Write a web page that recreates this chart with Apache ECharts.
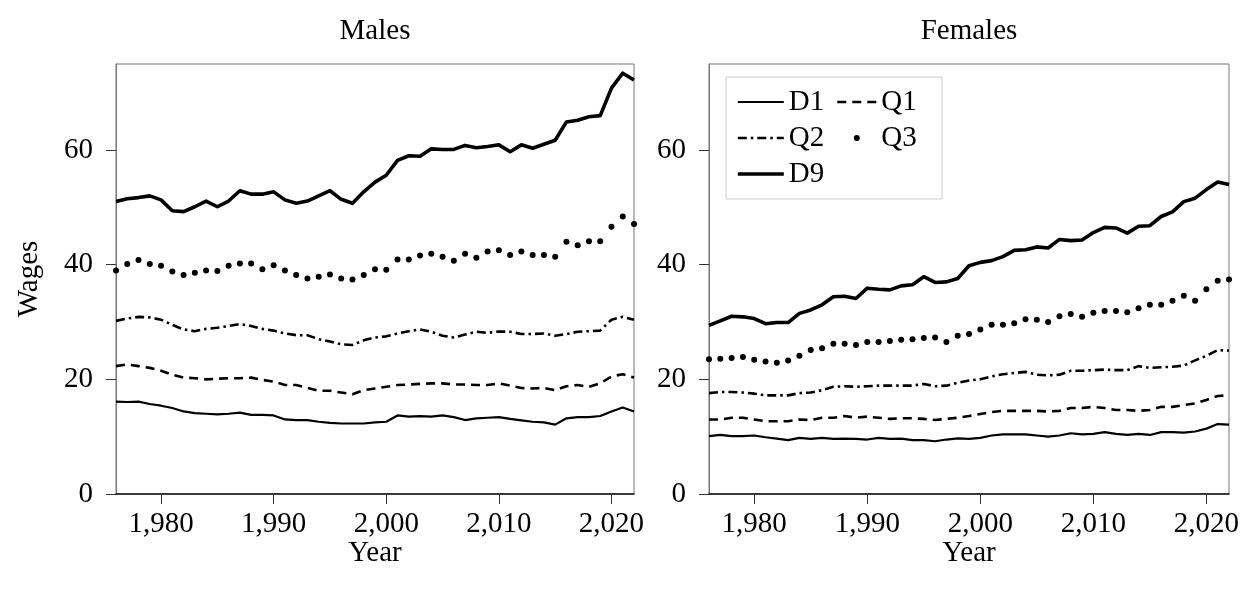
<!DOCTYPE html>
<html>
<head>
<meta charset="utf-8">
<script src="https://cdn.jsdelivr.net/npm/echarts@6/dist/echarts.min.js"></script>
<style>
html,body{margin:0;padding:0;background:#fff;}
#chart{width:1243px;height:590px;}
</style>
</head>
<body>
<div id="chart"></div>
<script>
const years = [1976,1977,1978,1979,1980,1981,1982,1983,1984,1985,1986,1987,1988,1989,1990,1991,1992,1993,1994,1995,1996,1997,1998,1999,2000,2001,2002,2003,2004,2005,2006,2007,2008,2009,2010,2011,2012,2013,2014,2015,2016,2017,2018,2019,2020,2021,2022];

const maleD1 = [16.1,16.05,16.1,15.7,15.4,15.0,14.4,14.1,14.0,13.9,
  14.0,14.2,13.8,13.8,13.7,13.0,12.9,12.9,12.6,12.4,
  12.3,12.3,12.3,12.5,12.6,13.7,13.5,13.6,13.5,13.7,
  13.4,12.9,13.2,13.3,13.4,13.1,12.85,12.6,12.5,12.1,
  13.2,13.4,13.4,13.6,14.4,15.1,14.4];
const maleQ1 = [22.3,22.6,22.3,22.0,21.5,20.8,20.3,20.2,20.0,20.1,
  20.2,20.2,20.3,19.9,19.6,19.0,19.0,18.5,18.0,18.0,
  17.7,17.4,18.1,18.4,18.7,19.0,19.1,19.2,19.3,19.3,
  19.1,19.1,19.0,19.0,19.3,18.9,18.5,18.4,18.5,18.1,
  18.8,19.0,18.7,19.3,20.5,20.9,20.3];
const maleQ2 = [30.2,30.6,30.9,30.8,30.4,29.5,28.7,28.4,28.8,29.0,
  29.3,29.65,29.3,28.8,28.5,28.0,27.7,27.7,27.0,26.6,
  26.1,26.0,26.8,27.3,27.5,28.0,28.4,28.7,28.3,27.6,
  27.3,27.8,28.3,28.1,28.35,28.3,27.9,27.9,28.0,27.6,
  27.9,28.3,28.4,28.5,30.4,30.9,30.4];
const maleQ3 = [39.0,40.1,40.8,40.1,39.8,38.8,38.2,38.6,39.0,38.9,
  39.8,40.2,40.2,39.2,39.9,39.0,38.2,37.6,37.9,38.3,
  37.6,37.4,38.2,39.2,39.1,40.9,40.9,41.6,41.9,41.4,
  40.7,41.9,41.2,42.3,42.5,41.7,42.3,41.7,41.7,41.4,
  44.0,43.4,44.1,44.1,46.6,48.4,47.1];
const maleD9 = [51.0,51.5,51.7,52.0,51.3,49.4,49.25,50.1,51.1,50.1,
  51.1,52.9,52.3,52.3,52.7,51.3,50.7,51.1,52.0,52.9,
  51.4,50.7,52.7,54.4,55.6,58.2,59.0,58.9,60.2,60.1,
  60.1,60.8,60.4,60.6,60.9,59.7,60.9,60.3,61.0,61.7,
  64.9,65.2,65.8,66.0,70.8,73.4,72.2];

const femaleD1 = [10.1,10.3,10.1,10.1,10.2,9.9,9.65,9.4,9.8,9.6,
  9.8,9.6,9.65,9.6,9.5,9.8,9.6,9.65,9.4,9.4,
  9.2,9.5,9.7,9.6,9.8,10.2,10.4,10.4,10.4,10.2,
  10.0,10.2,10.6,10.4,10.5,10.8,10.5,10.3,10.5,10.3,
  10.8,10.8,10.7,10.9,11.4,12.2,12.1];
const femaleQ1 = [13.0,13.0,13.3,13.3,13.0,12.7,12.7,12.7,13.0,12.9,
  13.3,13.3,13.6,13.3,13.5,13.3,13.1,13.2,13.2,13.1,
  12.9,13.1,13.3,13.6,13.95,14.3,14.5,14.5,14.5,14.5,
  14.4,14.5,15.0,15.0,15.2,15.0,14.65,14.65,14.5,14.65,
  15.2,15.2,15.5,15.8,16.4,17.1,17.2];
const femaleQ2 = [17.6,17.8,17.8,17.7,17.5,17.2,17.2,17.2,17.6,17.7,
  18.1,18.7,18.8,18.7,18.8,18.9,18.9,18.9,18.9,19.2,
  18.8,18.9,19.4,19.8,20.0,20.5,20.9,21.1,21.3,20.8,
  20.7,20.8,21.5,21.5,21.6,21.7,21.6,21.6,22.3,22.0,
  22.1,22.2,22.4,23.3,24.1,25.1,25.0];
const femaleQ3 = [23.5,23.6,23.7,23.9,23.4,23.1,22.9,23.3,24.1,25.1,
  25.4,26.2,26.2,26.0,26.5,26.5,26.7,26.9,27.0,27.2,
  27.3,26.5,27.6,27.9,28.7,29.5,29.5,29.8,30.5,30.4,
  30.0,31.0,31.4,30.9,31.6,31.9,31.9,31.7,32.4,33.0,
  33.0,33.7,34.6,33.7,35.7,37.2,37.4];
const femaleD9 = [29.4,30.2,31.0,30.9,30.6,29.7,29.9,29.9,31.5,32.1,
  33.0,34.4,34.5,34.1,35.9,35.7,35.6,36.3,36.5,37.9,
  36.9,37.0,37.6,39.8,40.4,40.7,41.4,42.5,42.6,43.1,
  42.9,44.4,44.2,44.3,45.6,46.5,46.4,45.5,46.7,46.8,
  48.4,49.2,51.0,51.6,53.1,54.4,54.0];

const xTicks = [1980,1990,2000,2010,2020];
const yTicks = [0,20,40,60];
const panelTitles = ['Males','Females'];
const seriesNames = ['D1','Q1','Q2','Q3','D9'];
const xAxisTitle = 'Year';
const yAxisTitle = 'Wages';

const FONT = 'Liberation Serif';
const FS = 29;
const pair = vals => years.map((y,i)=>[y, vals[i]]);

const styles = {
  D1: {type:'line', lineStyle:{width:2.2, type:'solid'}},
  Q1: {type:'line', lineStyle:{width:2.6, type:[9,6]}},
  Q2: {type:'line', lineStyle:{width:2.6, type:[9,4,2.5,4]}},
  Q3: {type:'scatter'},
  D9: {type:'line', lineStyle:{width:3.6, type:'solid'}}
};

function makeSeries(name, vals, idx){
  const st = styles[name];
  const base = {name, xAxisIndex: idx, yAxisIndex: idx, data: pair(vals), animation:false, z: 3};
  if (st.type === 'scatter') {
    return Object.assign(base, {type:'scatter', symbol:'circle', symbolSize:6,
      itemStyle:{color:'#000', opacity:1}});
  }
  return Object.assign(base, {type:'line', symbol:'none', showSymbol:false,
    itemStyle:{color:'#000'},
    lineStyle: Object.assign({color:'#000', join:'round'}, st.lineStyle)});
}

const male = {D1:maleD1, Q1:maleQ1, Q2:maleQ2, Q3:maleQ3, D9:maleD9};
const female = {D1:femaleD1, Q1:femaleQ1, Q2:femaleQ2, Q3:femaleQ3, D9:femaleD9};
const series = [];
seriesNames.forEach(n => series.push(makeSeries(n, male[n], 0)));
seriesNames.forEach(n => series.push(makeSeries(n, female[n], 1)));

function xAxis(idx){
  return {
    type:'value', gridIndex: idx, min:1976, max:2022,
    name: xAxisTitle, nameLocation:'middle', nameGap: 45, nameMoveOverlap: false,
    nameTextStyle:{fontFamily:FONT, fontSize:FS, color:'#000'},
    axisLine:{show:true, onZero:false, lineStyle:{color:'#111', width:1.5}},
    axisTick:{show:true, length:10, customValues: xTicks, lineStyle:{color:'#333', width:1}},
    axisLabel:{customValues: xTicks, margin:16, fontFamily:FONT, fontSize:FS, color:'#000',
      formatter: v => v.toLocaleString('en-US')},
    splitLine:{show:false}
  };
}
function yAxis(idx){
  return {
    type:'value', gridIndex: idx, min:0, max:75,
    name: idx === 0 ? yAxisTitle : '', nameLocation:'middle', nameGap: 72, nameRotate: 90, nameMoveOverlap: false,
    nameTextStyle:{fontFamily:FONT, fontSize:FS, color:'#000'},
    axisLine:{show:true, lineStyle:{color:'#777', width:1}},
    axisTick:{show:true, length:10, customValues: yTicks, lineStyle:{color:'#333', width:1}},
    axisLabel:{customValues: yTicks, margin:23, fontFamily:FONT, fontSize:FS, color:'#000'},
    splitLine:{show:false}
  };
}

const legendCommon = {
  orient:'vertical', top:87, padding:0, itemHeight:6, itemGap:6,
  selectedMode:false, z: 20,
  textStyle:{fontFamily:FONT, fontSize:FS, color:'#000', lineHeight:30}
};
const hideSym = {opacity:0};

const option = {
  backgroundColor:'#fff',
  animation:false,
  grid:[
    {left:116, right:609, top:64, bottom:96, show:true, borderColor:'#777', borderWidth:1, backgroundColor:'transparent'},
    {left:709, right:14, top:64, bottom:96, show:true, borderColor:'#777', borderWidth:1, backgroundColor:'transparent'}
  ],
  xAxis:[xAxis(0), xAxis(1)],
  yAxis:[yAxis(0), yAxis(1)],
  legend:[
    Object.assign({}, legendCommon, {left:736, itemWidth:46,
      data:[{name:'D1', lineStyle:{width:2.2}, itemStyle:hideSym},
            {name:'Q2', lineStyle:{width:2.6}, itemStyle:hideSym},
            {name:'D9', lineStyle:{width:3.6}, itemStyle:hideSym}]}),
    Object.assign({}, legendCommon, {left:836, itemWidth:39,
      data:[{name:'Q1', lineStyle:{width:2.6}, itemStyle:hideSym},
            {name:'Q3', itemStyle:{color:'#000', opacity:1}}]})
  ],
  graphic:[
    {type:'rect', z: 10, shape:{x:726, y:77, width:216, height:122},
      style:{fill:'#fff', stroke:'#ccc', lineWidth:1}},
    {type:'text', x:375, y:31, z: 10, style:{text:panelTitles[0], font:FS+'px "'+FONT+'"', fill:'#000', align:'center', verticalAlign:'middle', textAlign:'center', textVerticalAlign:'middle'}},
    {type:'text', x:969, y:31, z: 10, style:{text:panelTitles[1], font:FS+'px "'+FONT+'"', fill:'#000', align:'center', verticalAlign:'middle', textAlign:'center', textVerticalAlign:'middle'}}
  ],
  series: series
};

const chart = echarts.init(document.getElementById('chart'), null, {renderer:'canvas'});
chart.setOption(option);
</script>
</body>
</html>
